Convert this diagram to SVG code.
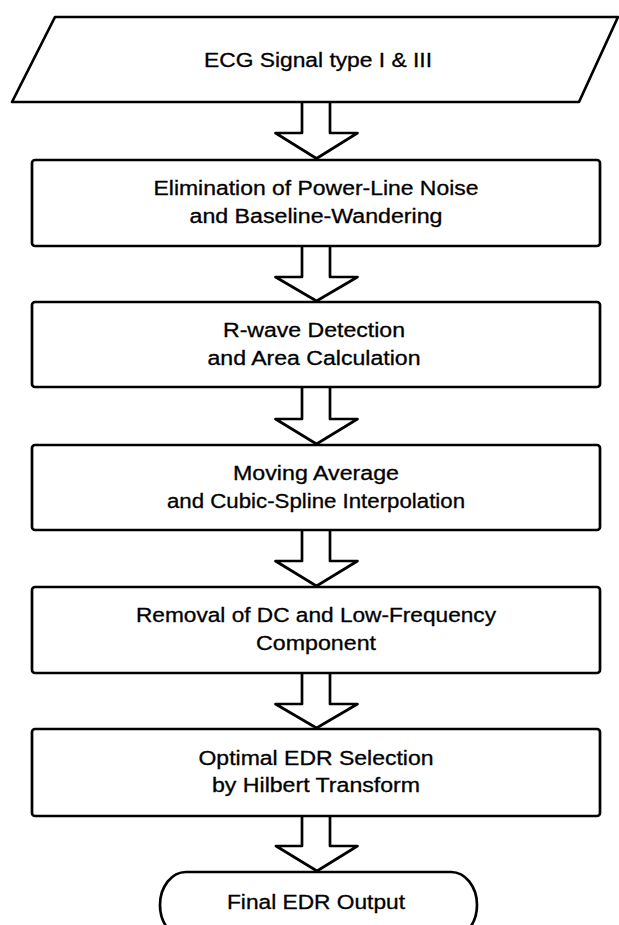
<svg xmlns="http://www.w3.org/2000/svg" width="619" height="925" viewBox="0 0 619 925">
<style>
.s{fill:#fff;stroke:#000;stroke-width:2.7;stroke-linejoin:round}
.t{font-family:"Liberation Sans",Arial,sans-serif;font-size:20px;fill:#000;stroke:#000;stroke-width:0.3;text-anchor:middle}
</style>
<rect width="619" height="925" fill="#fff"/>
<g id="connectors">
<path class="s" d="M302,102 V133 H275.5 L316.5,158.5 L357.5,133 H330 V102"/>
<path class="s" d="M302,246 V277 H275.5 L316.5,301 L357.5,277 H330 V246"/>
<path class="s" d="M302,387 V419 H275.5 L316.5,444 L357.5,419 H330 V387"/>
<path class="s" d="M302,530 V561 H275.5 L316.5,586 L357.5,561 H330 V530"/>
<path class="s" d="M302,673 V704 H275.5 L316.5,728 L357.5,704 H330 V673"/>
<path class="s" d="M302,816 V846 H276 L317,871 L357.5,846 H330 V816"/>
</g>
<g id="input">
<polygon class="s" points="55,17 618,17 579,102 12,102"/>
<text class="t" x="318" y="67" textLength="228" lengthAdjust="spacingAndGlyphs">ECG Signal type I &amp; III</text>
</g>
<g id="step1">
<rect class="s" x="32" y="160" width="568" height="86" rx="3"/>
<text class="t" x="316" y="195" textLength="325" lengthAdjust="spacingAndGlyphs">Elimination of Power-Line Noise</text>
<text class="t" x="316" y="223" textLength="253" lengthAdjust="spacingAndGlyphs">and Baseline-Wandering</text>
</g>
<g id="step2">
<rect class="s" x="32" y="302" width="568" height="85" rx="3"/>
<text class="t" x="314" y="337" textLength="182" lengthAdjust="spacingAndGlyphs">R-wave Detection</text>
<text class="t" x="314" y="365" textLength="213" lengthAdjust="spacingAndGlyphs">and Area Calculation</text>
</g>
<g id="step3">
<rect class="s" x="32" y="445" width="568" height="85" rx="3"/>
<text class="t" x="316" y="480" textLength="166" lengthAdjust="spacingAndGlyphs">Moving Average</text>
<text class="t" x="316" y="508" textLength="298" lengthAdjust="spacingAndGlyphs">and Cubic-Spline Interpolation</text>
</g>
<g id="step4">
<rect class="s" x="32" y="587" width="568" height="86" rx="3"/>
<text class="t" x="316" y="622" textLength="360" lengthAdjust="spacingAndGlyphs">Removal of DC and Low-Frequency</text>
<text class="t" x="316" y="650" textLength="120" lengthAdjust="spacingAndGlyphs">Component</text>
</g>
<g id="step5">
<rect class="s" x="32" y="729" width="568" height="87" rx="3"/>
<text class="t" x="316" y="765" textLength="235" lengthAdjust="spacingAndGlyphs">Optimal EDR Selection</text>
<text class="t" x="316" y="792" textLength="208" lengthAdjust="spacingAndGlyphs">by Hilbert Transform</text>
</g>
<g id="output">
<rect class="s" x="160" y="872" width="317" height="66" rx="26" ry="33"/>
<text class="t" x="316" y="909" textLength="178" lengthAdjust="spacingAndGlyphs">Final EDR Output</text>
</g>
</svg>
